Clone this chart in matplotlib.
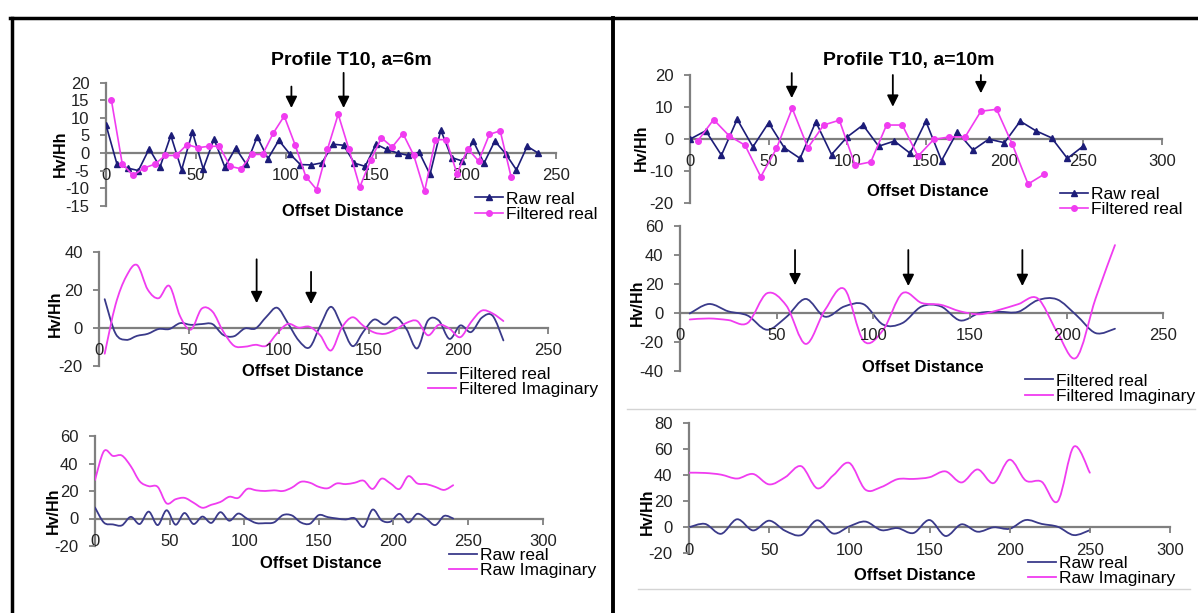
import matplotlib
matplotlib.use('Agg')
import matplotlib.pyplot as plt
from matplotlib.path import Path
from matplotlib.patches import PathPatch, Rectangle
from matplotlib.lines import Line2D

plt.rcParams['font.family'] = ['Liberation Sans', 'DejaVu Sans']
plt.rcParams['axes.unicode_minus'] = False

# ---- profile T10, a = 6 m ----
x6_raw = list(range(0, 241, 6))
raw_real_6 = [8, -3, -4.3, -5, 1.2, -4, 5, -4.8, 6, -4.5,
              4, -4, 1.4, -3.2, 4.6, -1.6, 3.6, -0.2, -3.3, -3.4,
              -2.8, 2.5, 2.2, -2.9, -3.8, 2.5, 1.0, 0, -0.7, 0.2,
              -6.1, 6.5, -1.3, -2.3, 3.4, -2.9, 3.4, -0.2, -4.8, 1.9, 0]
raw_imag_6 = [28, 49, 45.5, 45.8, 38, 27, 23.5, 23, 11, 14,
              15, 11.5, 7.8, 10, 12, 15.8, 15, 21.5, 20.5, 20,
              20.5, 20, 22.5, 26.7, 26, 23, 22, 25.5, 25, 26,
              27.5, 21.5, 29, 25.5, 21.5, 30.8, 25.5, 25, 23, 20.8, 24.2]
x6_filt = list(range(3, 226, 6))
filt_real_6 = [15, -3, -6.4, -4.3, -3.2, -0.7, -0.7, 2.4, 1.5, 1.9,
               1.9, -3.8, -4.5, -0.4, -0.4, 5.7, 10.5, 2.4, -6.7, -10.4,
               1, 11, 1, -9.7, -2.1, 4.3, 1.7, 5.5, -0.7, -10.9,
               3.8, 3.8, -5.9, 1.2, -2.3, 5.3, 6.3, -6.7]
filt_imag_6 = [-13.7, 12, 27, 33, 20, 15.5, 22, 6, -1, 10,
               8.5, -2, -9.5, -10, -9, -9.5, -3, 2, 0, 0.5,
               -4, -12, 0, 5.5, 1, -2.5, -3.2, -1, 2.5, 3.5,
               -4, 1.5, -0.5, -5, 3, 9, 7.5, 3.5]

# ---- profile T10, a = 10 m ----
x10_raw = list(range(0, 251, 10))
raw_real_10 = [0, 2.6, -5, 6.2, -2.4, 5.1, -2.7, -6, 5.4, -4.8,
               0.7, 4.4, -2.2, -0.6, -4.4, 5.6, -6.7, 2.3, -3.4, 0,
               -1.1, 5.6, 2.6, 0.4, -6, -2.2]
raw_imag_10 = [42, 41.8, 40.5, 37.5, 41, 33, 38.5, 47, 30, 40,
               49.5, 29, 31, 37, 37.2, 38.5, 43, 34.5, 44.5, 34,
               52, 36, 35, 20, 62, 42]
x10_filt = list(range(5, 226, 10))
filt_real_10 = [-0.5, 6.1, 1, -1.9, -11.7, -2.9, 9.6, -2.7, 4.4, 5.9,
                -8.1, -7.1, 4.4, 4.4, -5.3, -0.1, 0.7, 0.7, 8.7, 9.3,
                -1.6, -14, -11]
filt_imag_10 = [-4.6, -3.9, -5, -7, 13.5, 5, -21.5, 2, 16.5, -19.5,
                -12, 13.5, 6.8, 5.5, 1, -1, 2, 6, 10, -13,
                -31, 10, 46.8]

# arrows marking anomalies: (x, top, tip)
arrows_p1 = [(103, 18.9, 12.8), (132, 22.8, 12.8)]
arrows_p2 = [(87.6, 36, 12.9), (117.9, 29.4, 12.4)]
arrows_p4 = [(64.7, 20.6, 12.8), (129, 20, 10.1), (185, 20, 14.3)]
arrows_p5 = [(59.5, 43.4, 19), (118.1, 43.4, 18.5), (177.1, 43.4, 18.5)]

NAVY = '#1c1c78'
NAVY2 = '#3a3a8a'
PINK = '#f03cf0'
GRAY = '#7f7f7f'
W, H = 1198, 613

fig = plt.figure(figsize=(W / 100, H / 100), dpi=100)


def make_ax(px0, px1, py0, py1, xmax, ylim, yticks):
    ax = fig.add_axes([px0 / W, 1 - py1 / H, (px1 - px0) / W, (py1 - py0) / H])
    ax.set_xlim(0, xmax)
    ax.set_ylim(*ylim)
    ax.set_xticks(range(0, xmax + 1, 50))
    ax.set_yticks(yticks)
    ax.patch.set_alpha(0)
    ax.spines['top'].set_visible(False)
    ax.spines['right'].set_visible(False)
    ax.spines['bottom'].set_position(('data', 0))
    for s in ('left', 'bottom'):
        ax.spines[s].set_color(GRAY)
        ax.spines[s].set_linewidth(1.6)
        ax.spines[s].set_zorder(0.5)
    ax.tick_params(colors=GRAY, width=1.3, length=4, labelsize=12,
                   labelcolor='#222222')
    ax.tick_params(axis='x', pad=7)
    ax.tick_params(axis='y', pad=8)
    return ax


def smooth(ax, x, y, color, label, lw=1.3):
    n = len(x)
    verts = [(x[0], y[0])]
    codes = [Path.MOVETO]
    for i in range(n - 1):
        a, b = max(i - 1, 0), min(i + 2, n - 1)
        verts += [(x[i] + (x[i + 1] - x[a]) / 6, y[i] + (y[i + 1] - y[a]) / 6),
                  (x[i + 1] - (x[b] - x[i]) / 6, y[i + 1] - (y[b] - y[i]) / 6),
                  (x[i + 1], y[i + 1])]
        codes += [Path.CURVE4] * 3
    ax.add_patch(PathPatch(Path(verts, codes), fill=False, edgecolor=color,
                           lw=lw, joinstyle='round', capstyle='round'))
    ax.plot([], [], color=color, lw=lw, label=label)


def legend(ax, px, py, hl=1.6):
    ax.legend(loc='center left', bbox_to_anchor=(px / W, 1 - py / H),
              bbox_transform=fig.transFigure, frameon=False, fontsize=12.5,
              handlelength=hl, handletextpad=0.2, labelspacing=0.0,
              borderpad=0, borderaxespad=0, numpoints=1)


def arrows(ax, lst):
    for x, top, tip in lst:
        ax.annotate('', xy=(x, tip), xytext=(x, top), annotation_clip=False,
                    arrowprops=dict(arrowstyle='-|>', color='black', lw=1.3,
                                    mutation_scale=17, shrinkA=0, shrinkB=0))


def labels(xl, yl):
    fig.text(xl[0] / W, 1 - xl[1] / H, 'Offset Distance', ha='center', va='center',
             fontsize=12, fontweight='bold')
    fig.text(yl[0] / W, 1 - yl[1] / H, 'Hv/Hh', ha='center', va='center',
             fontsize=11.5, fontweight='bold', rotation=90)


# panel 1
ax1 = make_ax(106, 556, 82.7, 205.7, 250, (-15, 20), range(-15, 21, 5))
ax1.plot(x6_raw, raw_real_6, color=NAVY, lw=1.2, marker='^', ms=4.5, label='Raw real')
ax1.plot(x6_filt, filt_real_6, color=PINK, lw=1.2, marker='o', ms=4, label='Filtered real')
arrows(ax1, arrows_p1)
legend(ax1, 475, 206.5)
labels((343, 212), (60, 154))
fig.text(351 / W, 1 - 61 / H, 'Profile T10, a=6m', ha='center', va='center',
         fontsize=14, fontweight='bold')

# panel 2
ax2 = make_ax(99.3, 548.3, 251.7, 365.7, 250, (-20, 40), range(-20, 41, 20))
smooth(ax2, x6_filt, filt_real_6, NAVY2, 'Filtered real')
smooth(ax2, x6_filt, filt_imag_6, PINK, 'Filtered Imaginary')
arrows(ax2, arrows_p2)
legend(ax2, 428, 382)
labels((303, 372), (55, 314))

# panel 3
ax3 = make_ax(95, 542.7, 436, 546, 300, (-20, 60), range(-20, 61, 20))
smooth(ax3, x6_raw, raw_real_6, NAVY2, 'Raw real')
smooth(ax3, x6_raw, raw_imag_6, PINK, 'Raw Imaginary')
legend(ax3, 449, 563)
labels((321, 563), (53, 511))

# panel 4
ax4 = make_ax(690, 1161.7, 75, 203.3, 300, (-20, 20), range(-20, 21, 10))
ax4.plot(x10_raw, raw_real_10, color=NAVY, lw=1.2, marker='^', ms=4.5, label='Raw real')
ax4.plot(x10_filt, filt_real_10, color=PINK, lw=1.2, marker='o', ms=4, label='Filtered real')
arrows(ax4, arrows_p4)
legend(ax4, 1060, 202)
labels((928, 192), (641, 148))
fig.text(909 / W, 1 - 61 / H, 'Profile T10, a=10m', ha='center', va='center',
         fontsize=14, fontweight='bold')

# panel 5
ax5 = make_ax(680, 1163.3, 226, 370.7, 250, (-40, 60), range(-40, 61, 20))
smooth(ax5, x10_filt, filt_real_10, NAVY2, 'Filtered real')
smooth(ax5, x10_filt, filt_imag_10, PINK, 'Filtered Imaginary')
arrows(ax5, arrows_p5)
legend(ax5, 1025, 388.5)
labels((923, 367), (637, 303))

# panel 6
ax6 = make_ax(689, 1170, 423.3, 553.3, 300, (-20, 80), range(-20, 81, 20))
smooth(ax6, x10_raw, raw_real_10, NAVY2, 'Raw real')
smooth(ax6, x10_raw, raw_imag_10, PINK, 'Raw Imaginary')
legend(ax6, 1028, 571)
labels((915, 575), (647, 512))

# frame lines and separators
fig.add_artist(Rectangle((1040 / W, 1 - 222 / H), 158 / W, 5.5 / H,
                         transform=fig.transFigure, facecolor='white',
                         edgecolor='none', zorder=5))
fig.add_artist(Line2D([10 / W, 1], [1 - 18 / H] * 2, color='black', lw=2.5))
fig.add_artist(Line2D([11.5 / W] * 2, [1 - 18 / H, 0], color='black', lw=2.5))
fig.add_artist(Line2D([613 / W] * 2, [1 - 18 / H, 0], color='black', lw=2.8))
fig.add_artist(Line2D([627 / W, 1195 / W], [1 - 409 / H] * 2, color='#d4d4d4', lw=1))
fig.add_artist(Line2D([638 / W, 1190 / W], [1 - 589 / H] * 2, color='#d4d4d4', lw=1))

fig.savefig('out.png', dpi=100)
